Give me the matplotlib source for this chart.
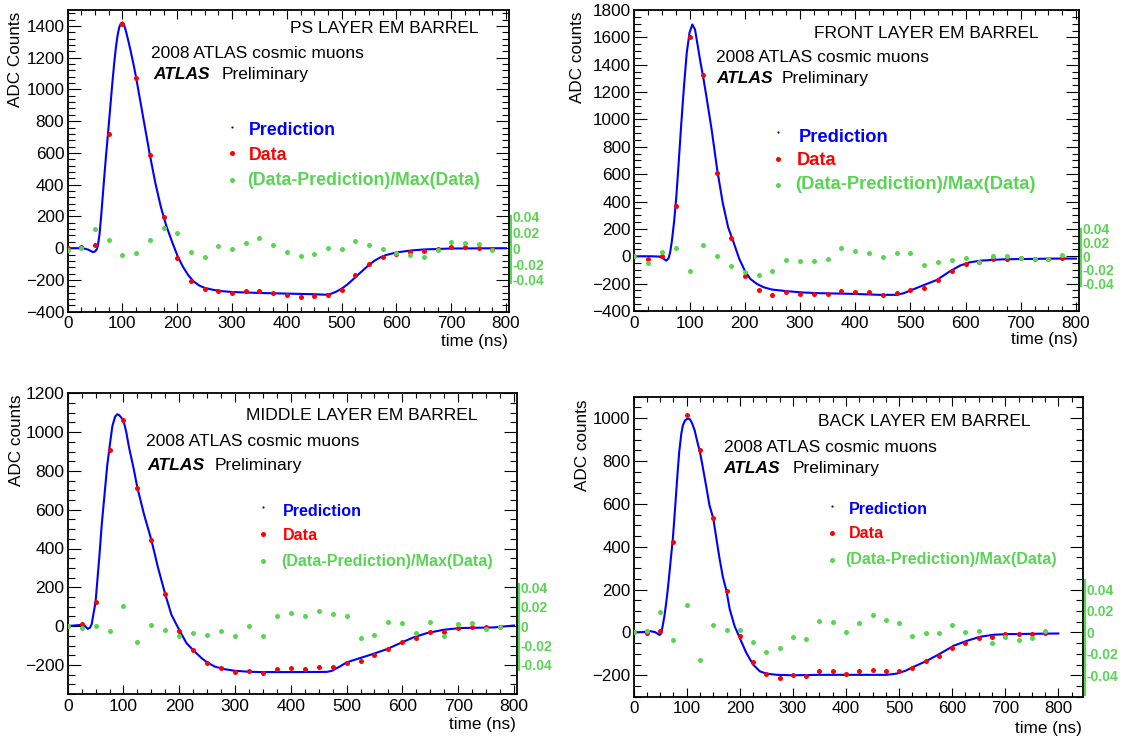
import matplotlib
matplotlib.use("Agg")
import matplotlib.pyplot as plt
from matplotlib.lines import Line2D
from matplotlib.ticker import MultipleLocator, NullLocator, FixedLocator

W, H = 1122, 736
plt.rcParams['font.family'] = ['Liberation Sans', 'DejaVu Sans']

BLUE = '#0000ff'
RED = '#ff0000'
GREEN = '#59d454'
RES_SCALE = 5000.0   # residual units -> ADC counts on the shared frame

# ADC sampling times (ns), one sample every 25 ns
sample_t = [0, 25, 50, 75, 100, 125, 150, 175, 200, 225, 250, 275, 300, 325, 350, 375,
            400, 425, 450, 475, 500, 525, 550, 575, 600, 625, 650, 675, 700, 725, 750, 775]

# ---- PS layer ----
ps_pred_t = [0, 20, 30, 38, 46, 50, 53, 55, 58, 61, 64, 67, 70, 73, 76, 79, 82, 85, 88, 91,
             94, 97, 100, 103, 106, 110, 115, 120, 125, 130, 140, 150, 160, 170, 180, 190,
             200, 210, 220, 230, 240, 250, 265, 280, 300, 350, 400, 450, 470, 480, 490, 500,
             510, 520, 530, 540, 550, 560, 570, 580, 600, 625, 650, 700, 800]
ps_pred_adc = [0, 0, -2, -10, -25, -20, -8, 15, 85, 200, 330, 460, 585, 700, 820, 940, 1060,
               1170, 1265, 1340, 1390, 1415, 1422, 1405, 1370, 1315, 1240, 1160, 1072, 975,
               780, 587, 410, 260, 140, 45, -45, -115, -170, -210, -235, -250, -262, -270,
               -276, -282, -286, -290, -293, -288, -274, -255, -230, -199, -167, -136, -105,
               -79, -59, -44, -27, -15, -8, -2, 0]
ps_data = [0, 5, 21, 717, 1411, 1072, 587, 194, -59, -204, -259, -267, -282, -272, -270, -282,
           -297, -309, -303, -293, -261, -169, -100, -54, -38, -23, -19, -6, 10, 10, 4, -2]
ps_resid = [-0.002, 0.000, 0.024, 0.010, -0.009, -0.006, 0.010, 0.026, 0.019, -0.005, -0.011,
            0.0025, -0.001, 0.006, 0.013, 0.004, -0.005, -0.010, -0.0075, 0.000, -0.001, 0.009,
            0.004, -0.001, -0.006, -0.009, -0.011, -0.002, 0.008, 0.007, 0.0055, -0.002]

# ---- Front layer ----
fr_pred_t = [0, 30, 45, 52, 58, 62, 65, 68, 72, 76, 80, 85, 90, 95, 100, 105, 110, 115, 120,
             125, 130, 140, 150, 160, 170, 180, 190, 200, 210, 222, 234, 249, 276, 306, 337,
             397, 445, 475, 488, 500, 518, 548, 572, 590, 608, 627, 669, 760, 800]
fr_pred_adc = [0, 0, -2, -15, -32, -15, 30, 110, 250, 430, 660, 965, 1244, 1487, 1633, 1694,
               1657, 1536, 1414, 1305, 1183, 928, 637, 394, 211, 100, -18, -104, -165, -202,
               -226, -243, -255, -265, -270, -275, -282, -282, -270, -250, -221, -173, -109,
               -68, -44, -32, -22, -17, -17]
fr_data = [0, -19, 5, 369, 1604, 1324, 607, 131, -141, -250, -282, -262, -275, -275, -275, -255,
           -258, -262, -282, -270, -250, -233, -170, -109, -58, -39, -22, -17, -15, -19, -19, -12]
fr_resid = [0.001, -0.0097, 0.006, 0.012, -0.022, 0.0165, 0.000, -0.014, -0.023, -0.028, -0.022,
            -0.005, -0.007, -0.0065, -0.004, 0.0125, 0.007, 0.005, -0.0004, 0.005, 0.005, -0.013,
            -0.008, -0.006, -0.0024, -0.008, 0.0004, 0.001, -0.002, -0.0044, -0.0044, 0.0024]

# ---- Middle layer ----
md_pred_t = [0, 15, 25, 31, 36, 40, 43, 46, 50, 53, 57, 61, 66, 71, 76, 80, 85, 89, 92, 96,
             100, 105, 110, 118, 125, 137, 150, 162, 175, 186, 200, 213, 225, 240, 250, 263,
             281, 299, 323, 345, 405, 465, 474, 488, 500, 524, 548, 572, 596, 620, 644, 674,
             704, 763, 800]
md_pred_adc = [0, 4, 6, 0, -14, -8, 10, 60, 126, 230, 368, 523, 678, 832, 944, 1030, 1080,
               1092, 1088, 1075, 1060, 1000, 920, 815, 712, 574, 444, 300, 163, 58, -20, -88,
               -124, -165, -187, -208, -222, -230, -235, -237, -237, -236, -230, -208, -187,
               -165, -143, -119, -88, -58, -36, -19, -10, -7, 3]
md_data = [0, 9, 126, 908, 1063, 712, 444, 164, -23, -124, -188, -215, -235, -231, -241, -220,
           -218, -220, -213, -213, -189, -181, -150, -117, -81, -62, -31, -28, -10, -5, -7, -5]
md_resid = [0.000, -0.002, 0.000, -0.005, 0.021, -0.016, 0.001, -0.0045, -0.0098, -0.0072,
            -0.0091, -0.0048, -0.0098, -0.0002, -0.010, 0.010, 0.013, 0.0104, 0.0158, 0.0128,
            0.0104, -0.012, -0.0092, 0.0042, 0.003, -0.0072, 0.0038, -0.010, 0.0024, 0.0034,
            -0.0034, -0.001]

# ---- Back layer ----
bk_pred_t = [0, 20, 30, 40, 49, 52, 54, 58, 62, 65, 68, 71, 74, 77, 80, 83, 86, 90, 93, 97,
             102, 106, 110, 115, 120, 125, 130, 137, 143, 150, 156, 162, 168, 175, 181, 190,
             198, 212, 225, 238, 250, 270, 300, 350, 415, 477, 496, 512, 527, 552, 578, 603,
             628, 653, 678, 703, 800]
bk_pred_adc = [0, 2, 6, 2, -12, -5, 20, 75, 150, 215, 290, 365, 440, 540, 645, 750, 845, 930,
               968, 990, 998, 995, 977, 943, 890, 842, 775, 678, 592, 533, 437, 343, 260, 193,
               109, 31, -15, -94, -150, -182, -192, -198, -200, -198, -198, -198, -192, -179,
               -161, -133, -98, -62, -39, -20, -11, -8, -5]
bk_data = [0, -3, 8, 424, 1016, 850, 533, 194, -18, -140, -196, -213, -200, -204, -182, -182,
           -192, -182, -175, -182, -178, -165, -133, -109, -72, -48, -25, -23, -8, -8, -8, -5]
bk_resid = [0.000, 0.0016, 0.019, -0.0075, 0.026, -0.026, 0.007, 0.0025, 0.0025, -0.009, -0.018,
            -0.0145, -0.004, -0.0066, 0.011, 0.010, 0.0006, 0.0084, 0.016, 0.0116, 0.009,
            -0.0038, -0.0004, -0.0004, 0.0072, 0.0006, 0.001, -0.0096, -0.0044, -0.0068,
            -0.0056, 0.0016]

res_ticks = [-0.04, -0.02, 0.0, 0.02, 0.04]
res_tick_labels = ['-0.04', '-0.02', '0', '0.02', '0.04']
x_major = 100
x_minor = 25

panels = [
    dict(title='PS LAYER EM BARREL', ylabel='ADC Counts',
         pred_t=ps_pred_t, pred=ps_pred_adc, data=ps_data, resid=ps_resid,
         frame=(67.7, 10.0, 509.3, 311.7), xlim=(0, 806), ylim=(-400, 1500), yminor=40,
         res_span=(-0.044, 0.040), tick_fs=12.3,
         title_xy=(290, 33.3), info_xy=(150.7, 58.3), atlas_xy=(153, 79.3), prelim_x=222,
         text_fs=12.5, leg_mx=231.7, leg_my=(126.7, 153.3, 180.0),
         leg_tx=(249.3, 249.3, 247.3), leg_ty=(135, 160, 185.3), leg_fs=12.8,
         ytitle_xy=(16, 12), xtitle_xy=(508.3, 341.7)),
    dict(title='FRONT LAYER EM BARREL', ylabel='ADC counts',
         pred_t=fr_pred_t, pred=fr_pred_adc, data=fr_data, resid=fr_resid,
         frame=(634.3, 10.0, 1079.3, 311.0), xlim=(0, 806), ylim=(-400, 1800), yminor=50,
         res_span=(-0.043, 0.040), tick_fs=12.3,
         title_xy=(813.7, 38.3), info_xy=(716, 61.5), atlas_xy=(716, 83), prelim_x=782,
         text_fs=12.5, leg_mx=778, leg_my=(132.4, 159, 185.3),
         leg_tx=(798.3, 796.5, 794.7), leg_ty=(142, 164.6, 188.6), leg_fs=13.2,
         ytitle_xy=(578, 11.7), xtitle_xy=(1078.3, 339.9)),
    dict(title='MIDDLE LAYER EM BARREL', ylabel='ADC counts',
         pred_t=md_pred_t, pred=md_pred_adc, data=md_data, resid=md_resid,
         frame=(67.7, 393.3, 517.3, 694.0), xlim=(0, 806), ylim=(-350, 1200), yminor=50,
         res_span=(-0.045, 0.043), tick_fs=12.6,
         title_xy=(245.8, 420), info_xy=(146, 446), atlas_xy=(147.8, 469.5), prelim_x=214.8,
         text_fs=12.6, leg_mx=263, leg_my=(506.9, 534.3, 561),
         leg_tx=(282.5, 282.5, 280.8), leg_ty=(516, 540, 565.7), leg_fs=11.6,
         ytitle_xy=(16.5, 395), xtitle_xy=(515.6, 724)),
    dict(title='BACK LAYER EM BARREL', ylabel='ADC counts',
         pred_t=bk_pred_t, pred=bk_pred_adc, data=bk_data, resid=bk_resid,
         frame=(633.6, 396.7, 1083.3, 696.7), xlim=(0, 847), ylim=(-300, 1100), yminor=50,
         res_span=(-0.058, 0.049), tick_fs=12.2,
         title_xy=(818.1, 425.8), info_xy=(723.5, 451.5), atlas_xy=(723.5, 472.6), prelim_x=792.4,
         text_fs=12.5, leg_mx=832, leg_my=(506, 533.2, 559.6),
         leg_tx=(848.8, 848.8, 845.2), leg_ty=(513.5, 537.6, 563.7), leg_fs=11.6,
         ytitle_xy=(582.6, 399), xtitle_xy=(1081.5, 728.5)),
]

fig = plt.figure(figsize=(W / 100, H / 100), dpi=100)
fig.patch.set_facecolor('white')


def fx(x):
    return x / W


def fy(y):
    return 1 - y / H


for p in panels:
    l, t, r, b = p['frame']
    ax = fig.add_axes([fx(l), fy(b), (r - l) / W, (b - t) / H])
    ax.plot(p['pred_t'], p['pred'], color=BLUE, lw=1.5, zorder=2)
    ax.plot(sample_t, p['data'], 'o', ms=3.6, mfc=RED, mec='none', zorder=3)
    ax.set_xlim(*p['xlim'])
    ax.set_ylim(*p['ylim'])
    ax.xaxis.set_major_locator(MultipleLocator(x_major))
    ax.xaxis.set_minor_locator(MultipleLocator(x_minor))
    ax.yaxis.set_major_locator(MultipleLocator(200))
    ax.yaxis.set_minor_locator(MultipleLocator(p['yminor']))
    for s in ax.spines.values():
        s.set_linewidth(1.3)

    # residual axis sharing the frame, scaled so that 0.04 <-> 200 counts
    ax2 = ax.twinx()
    ax2.set_ylim(p['ylim'][0] / RES_SCALE, p['ylim'][1] / RES_SCALE)
    ax2.plot(sample_t, p['resid'], 'o', ms=3.6, mfc=GREEN, mec='none', zorder=4)
    for side in ('left', 'top', 'bottom'):
        ax2.spines[side].set_visible(False)
    ax2.spines['right'].set_color(GREEN)
    ax2.spines['right'].set_linewidth(1.5)
    ax2.spines['right'].set_position(('outward', 1))
    ax2.spines['right'].set_bounds(*p['res_span'])
    ax2.yaxis.set_major_locator(FixedLocator(res_ticks))
    ax2.set_yticklabels(res_tick_labels)
    ax2.yaxis.set_minor_locator(NullLocator())
    ax2.tick_params(axis='y', length=0, pad=1.5, labelcolor=GREEN, labelsize=10)
    for lab in ax2.get_yticklabels():
        lab.set_fontweight('bold')

    ax.tick_params(which='both', direction='in', top=True, right=True,
                   labelright=False, labeltop=False, width=0.8)
    ax.tick_params(axis='y', which='major', length=9.4, pad=2.4, labelsize=p['tick_fs'])
    ax.tick_params(axis='y', which='minor', length=4.7)
    ax.tick_params(axis='x', which='major', length=6.5, pad=3.3, labelsize=p['tick_fs'])
    ax.tick_params(axis='x', which='minor', length=3.3)

    # panel annotations
    tx, ty = p['title_xy']
    fig.text(fx(tx), fy(ty), p['title'], fontsize=p['text_fs'], va='baseline', ha='left')
    ix, iy = p['info_xy']
    fig.text(fx(ix), fy(iy), '2008 ATLAS cosmic muons', fontsize=p['text_fs'],
             va='baseline', ha='left')
    axx, axy = p['atlas_xy']
    fig.text(fx(axx), fy(axy), 'ATLAS', fontsize=p['text_fs'], fontweight='bold',
             fontstyle='italic', va='baseline', ha='left')
    fig.text(fx(p['prelim_x']), fy(axy), 'Preliminary', fontsize=p['text_fs'],
             va='baseline', ha='left')

    # legend
    leg = [('Prediction', BLUE, 1.6), ('Data', RED, 3.6),
           ('(Data-Prediction)/Max(Data)', GREEN, 3.6)]
    for (label, col, ms), my, lx, ly in zip(leg, p['leg_my'], p['leg_tx'], p['leg_ty']):
        fig.add_artist(Line2D([fx(p['leg_mx'])], [fy(my)], marker='o', ms=ms, mfc=col,
                              mec='none', ls='none', transform=fig.transFigure))
        fig.text(fx(lx), fy(ly), label, color=col, fontweight='bold',
                 fontsize=p['leg_fs'], va='baseline', ha='left')

    yx, yy = p['ytitle_xy']
    fig.text(fx(yx), fy(yy), p['ylabel'], rotation=90, fontsize=12.3,
             ha='center', va='top')
    xx, xy = p['xtitle_xy']
    fig.text(fx(xx), fy(xy), 'time (ns)', fontsize=12.3, ha='right', va='center')

fig.savefig('out.png', dpi=100, facecolor='white')
